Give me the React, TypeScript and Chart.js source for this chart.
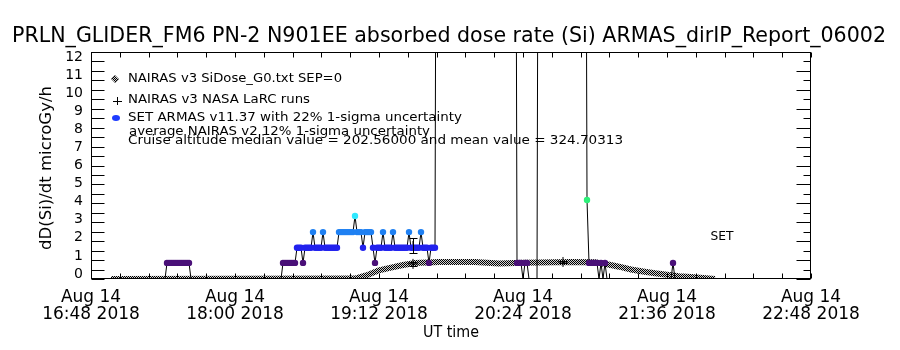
import React, { useEffect, useRef } from 'react';
import { Chart, registerables } from 'chart.js';

Chart.register(...registerables);

// ---------- axis / labels ----------
const startTime = '16:48';
const xTickTimes = ['16:48', '18:00', '19:12', '20:24', '21:36', '22:48'];
const xTickDate = 'Aug 14';
const xTickYear = '2018';
const yTickValues = [0, 1, 2, 3, 4, 5, 6, 7, 8, 9, 10, 11, 12];

const titleText = 'PRLN_GLIDER_FM6 PN-2 N901EE absorbed dose rate (Si) ARMAS_dirIP_Report_06002';
const yTitle = 'dD(Si)/dt microGy/h';
const xTitle = 'UT time';
const legendLines = [
  'NAIRAS v3 SiDose_G0.txt SEP=0',
  'NAIRAS v3 NASA LaRC runs',
  'SET ARMAS v11.37 with 22% 1-sigma uncertainty',
  'average NAIRAS v2 12% 1-sigma uncertainty',
  'Cruise altitude median value = 202.56000 and mean value = 324.70313',
];
const setLabel = 'SET';

// ---------- NAIRAS v3 SiDose_G0 (checkered band) ----------
const nairasTimes = ['16:58', '19:00', '19:06', '19:12', '19:18', '19:24', '19:30', '19:42', '20:00', '20:12', '20:24', '20:48', '21:00', '21:06', '21:12', '21:18', '21:24', '21:30', '21:36', '21:42', '21:48', '21:54', '22:00'];
const nairasDose = [0, 0.02, 0.2, 0.46, 0.6, 0.74, 0.85, 0.9, 0.9, 0.82, 0.86, 0.9, 0.88, 0.78, 0.65, 0.5, 0.4, 0.3, 0.22, 0.15, 0.1, 0.05, 0];

// ---------- NAIRAS v3 NASA LaRC runs ----------
const larcTimes = ['19:29', '19:29', '20:44'];
const larcDose = [1.75, 0.8, 0.9];
const larcErr = [0.4, 0.1, 0.05];

// ---------- SET ARMAS (runs of constant quantised dose, 1-min samples) ----------
const armasFrom = ['16:58', '17:26', '17:38', '18:24', '18:31', '18:34', '18:35', '18:39', '18:40', '18:44', '18:45', '18:52', '19:00', '19:01', '19:04', '19:05', '19:09', '19:10', '19:11', '19:14', '19:15', '19:19', '19:20', '19:27', '19:28', '19:33', '19:34', '19:37', '19:38', '19:41', '20:20', '20:21', '20:24', '20:25', '20:27', '20:32', '20:55', '20:56', '20:57', '21:02', '21:03', '21:04', '21:05', '21:06', '21:39', '21:40'];
const armasTo = ['17:25', '17:37', '18:23', '18:30', '18:33', '18:34', '18:38', '18:39', '18:43', '18:44', '18:51', '18:59', '19:00', '19:03', '19:04', '19:08', '19:09', '19:10', '19:13', '19:14', '19:18', '19:19', '19:26', '19:27', '19:32', '19:33', '19:36', '19:37', '19:40', '19:41', '20:20', '20:23', '20:24', '20:26', '20:31', '20:32', '20:55', '20:56', '21:01', '21:02', '21:03', '21:04', '21:05', '21:38', '21:39', '22:00'];
const armasDose = [0, 0.85, 0, 0.85, 1.65, 0.85, 1.65, 2.48, 1.65, 2.48, 1.65, 2.48, 3.33, 2.48, 1.65, 2.48, 1.65, 0.85, 1.65, 2.48, 1.65, 2.48, 1.65, 2.48, 1.65, 2.48, 1.65, 0.85, 1.65, 40, 40, 0.85, 0, 0.85, 0, 40, 40, 4.18, 0.85, 0, 0.85, 0, 0.85, 0, 0.85, 0];

const FONT = "'DejaVu Sans', 'Liberation Sans', sans-serif";

function toMin(t: string): number {
  const [h, m] = t.split(':').map(Number);
  const [h0, m0] = startTime.split(':').map(Number);
  return h * 60 + m - (h0 * 60 + m0);
}
function toTime(min: number): string {
  const [h0, m0] = startTime.split(':').map(Number);
  const tot = h0 * 60 + m0 + Math.round(min);
  const h = Math.floor(tot / 60);
  const m = tot % 60;
  return `${h}:${m < 10 ? '0' : ''}${m}`;
}

function armasColor(v: number): string {
  if (v <= 0) return '#000000';
  if (v < 1.2) return '#4a1078';
  if (v < 2.0) return '#2222ee';
  if (v < 2.9) return '#1f80f2';
  if (v < 3.8) return '#30e8ff';
  return '#2cf078';
}

function fitText(ctx: CanvasRenderingContext2D, text: string, x: number, y: number, size: number, width: number, align: CanvasTextAlign) {
  ctx.save();
  ctx.font = `${size}px ${FONT}`;
  const w = ctx.measureText(text).width;
  ctx.translate(x, y);
  ctx.scale(width / w, 1);
  ctx.textAlign = align;
  ctx.textBaseline = 'middle';
  ctx.fillStyle = '#000';
  ctx.fillText(text, 0, 0);
  ctx.restore();
}

export default function App() {
  const ref = useRef<HTMLCanvasElement | null>(null);

  useEffect(() => {
    const canvas = ref.current;
    if (!canvas) return;
    const ctx0 = canvas.getContext('2d')!;

    const pc = document.createElement('canvas');
    pc.width = 2;
    pc.height = 2;
    const p = pc.getContext('2d')!;
    p.fillStyle = '#d0d0d0';
    p.fillRect(0, 0, 2, 2);
    p.fillStyle = '#000';
    p.fillRect(0, 0, 1, 1);
    p.fillRect(1, 1, 1, 1);
    const pattern = ctx0.createPattern(pc, 'repeat')!;

    const nairasData = nairasTimes.map((t, i) => ({ x: toMin(t), y: nairasDose[i] }));
    const larcData = larcTimes.map((t, i) => ({ x: toMin(t), y: larcDose[i] }));
    const armasData: { x: number; y: number }[] = [];
    armasFrom.forEach((f, i) => {
      for (let m = toMin(f); m <= toMin(armasTo[i]); m++) armasData.push({ x: m, y: armasDose[i] });
    });

    const idlPlugin = {
      id: 'idl',
      afterDatasetsDraw(chart: any) {
        const { ctx, chartArea: a, scales } = chart;
        const xs = scales.x;
        const ys = scales.y;
        ctx.save();
        ctx.strokeStyle = '#000';
        ctx.lineWidth = 1;
        // LaRC error bars
        larcData.forEach((d, i) => {
          const px = Math.round(xs.getPixelForValue(d.x)) + 0.5;
          const t = Math.round(ys.getPixelForValue(d.y + larcErr[i])) + 0.5;
          const b = Math.round(ys.getPixelForValue(d.y - larcErr[i])) + 0.5;
          ctx.beginPath();
          ctx.moveTo(px, t); ctx.lineTo(px, b);
          ctx.moveTo(px - 4, t); ctx.lineTo(px + 4, t);
          ctx.moveTo(px - 4, b); ctx.lineTo(px + 4, b);
          ctx.stroke();
        });
        // frame
        const L = Math.round(a.left) + 0.5, R = Math.round(a.right) - 0.5;
        const T = Math.round(a.top) + 0.5, B = Math.round(a.bottom) - 0.5;
        ctx.strokeRect(L, T, R - L, B - T);
        ctx.beginPath();
        for (let v = 0; v <= 12; v += 0.5) {
          const py = Math.round(ys.getPixelForValue(v)) + 0.5;
          ctx.moveTo(L, py); ctx.lineTo(L + 13, py);
          const len = Number.isInteger(v) ? 14 : 7;
          ctx.moveTo(R, py); ctx.lineTo(R - len, py);
        }
        for (let k = 0; k <= 25; k++) {
          const px = Math.round(xs.getPixelForValue(k * 14.4)) + 0.5;
          ctx.moveTo(px, B); ctx.lineTo(px, B - 5);
          ctx.moveTo(px, T); ctx.lineTo(px, T + 5);
        }
        ctx.stroke();
        ctx.restore();
      },
      afterDraw(chart: any) {
        const { ctx, chartArea: a } = chart;
        ctx.save();
        fitText(ctx, titleText, 449, 37, 21, 874, 'center');
        ctx.save();
        ctx.translate(47, 168);
        ctx.rotate(-Math.PI / 2);
        fitText(ctx, yTitle, 0, 0, 16, 164, 'center');
        ctx.restore();
        fitText(ctx, xTitle, (a.left + a.right) / 2, 333, 16, 56, 'center');
        // legend
        const lx = 128;
        fitText(ctx, legendLines[0], lx, 79, 13, 214, 'left');
        fitText(ctx, legendLines[1], lx, 100, 13, 182, 'left');
        fitText(ctx, legendLines[2], lx, 118, 13, 334, 'left');
        fitText(ctx, legendLines[3], lx + 1, 132, 13, 301, 'left');
        fitText(ctx, legendLines[4], lx, 141, 13, 495, 'left');
        fitText(ctx, setLabel, 722, 237, 13, 23, 'center');
        // legend symbols
        ctx.beginPath();
        ctx.moveTo(115, 75); ctx.lineTo(119, 79); ctx.lineTo(115, 83); ctx.lineTo(111, 79); ctx.closePath();
        ctx.fillStyle = pattern;
        ctx.fill();
        ctx.strokeStyle = '#999';
        ctx.lineWidth = 1;
        ctx.stroke();
        ctx.strokeStyle = '#000';
        ctx.beginPath();
        ctx.moveTo(117.5, 97); ctx.lineTo(117.5, 105);
        ctx.moveTo(113, 101.5); ctx.lineTo(122, 101.5);
        ctx.stroke();
        ctx.fillStyle = '#1e3cff';
        ctx.beginPath();
        ctx.ellipse(116, 118, 4, 3, 0, 0, Math.PI * 2);
        ctx.fill();
        ctx.restore();
      },
    };

    const chart = new Chart(canvas, {
      type: 'line',
      data: {
        datasets: [
          {
            label: 'SET ARMAS',
            data: armasData,
            xAxisID: 'x',
            yAxisID: 'y',
            borderColor: '#000',
            borderWidth: 1,
            tension: 0,
            clip: 0,
            pointStyle: 'circle',
            pointRadius: (c: any) => {
              const v = c.raw ? c.raw.y : 0;
              return v > 0 && v <= 12 ? 3.2 : 0;
            },
            pointBackgroundColor: (c: any) => armasColor(c.raw ? c.raw.y : 0),
            pointBorderWidth: 0,
          } as any,
          {
            label: 'NAIRAS LaRC',
            data: larcData,
            xAxisID: 'x',
            yAxisID: 'y',
            showLine: false,
            pointStyle: 'cross',
            pointRadius: 5,
            borderColor: '#000',
            pointBorderColor: '#000',
            pointBorderWidth: 1,
          } as any,
          {
            label: 'NAIRAS SiDose',
            data: nairasData,
            xAxisID: 'x',
            yAxisID: 'y',
            borderColor: pattern,
            borderWidth: 6,
            pointRadius: 0,
            tension: 0,
            clip: 0,
          } as any,
        ],
      },
      options: {
        animation: false,
        responsive: false,
        devicePixelRatio: 1,
        layout: { padding: { left: 0, right: 89, top: 52, bottom: 0 } },
        plugins: {
          legend: { display: false },
          tooltip: { enabled: false },
          title: { display: false },
        },
        scales: {
          x: {
            type: 'linear',
            min: toMin(xTickTimes[0]),
            max: toMin(xTickTimes[xTickTimes.length - 1]),
            grid: { display: false, drawTicks: false },
            border: { display: false },
            afterBuildTicks: (axis: any) => {
              axis.ticks = xTickTimes.map((t) => ({ value: toMin(t) }));
            },
            afterFit: (s: any) => {
              s.height = 71;
            },
            ticks: {
              autoSkip: false,
              maxRotation: 0,
              padding: 10,
              color: '#000',
              font: { family: FONT, size: 17, lineHeight: 1.02 },
              callback: (v: any) => [xTickDate, `${toTime(Number(v))} ${xTickYear}`],
            },
          },
          yl: {
            type: 'linear',
            position: 'left',
            min: -0.28,
            max: 12.28,
            grid: { display: false, drawTicks: false },
            border: { display: false },
            afterBuildTicks: (axis: any) => {
              axis.ticks = yTickValues.map((v) => ({ value: v }));
            },
            afterFit: (s: any) => {
              s.width = 91;
            },
            ticks: {
              autoSkip: false,
              padding: 8,
              color: '#000',
              font: { family: FONT, size: 14 },
              callback: (v: any) => String(v),
            },
          },
          y: {
            type: 'linear',
            display: false,
            min: 0,
            max: 12,
          },
        },
      } as any,
      plugins: [idlPlugin],
    });

    return () => chart.destroy();
  }, []);

  return (
    <div style={{ position: 'fixed', left: 0, top: 0, width: 900, height: 350, background: '#fff' }}>
      <canvas ref={ref} width={900} height={350} style={{ display: 'block', width: 900, height: 350 }} />
    </div>
  );
}
